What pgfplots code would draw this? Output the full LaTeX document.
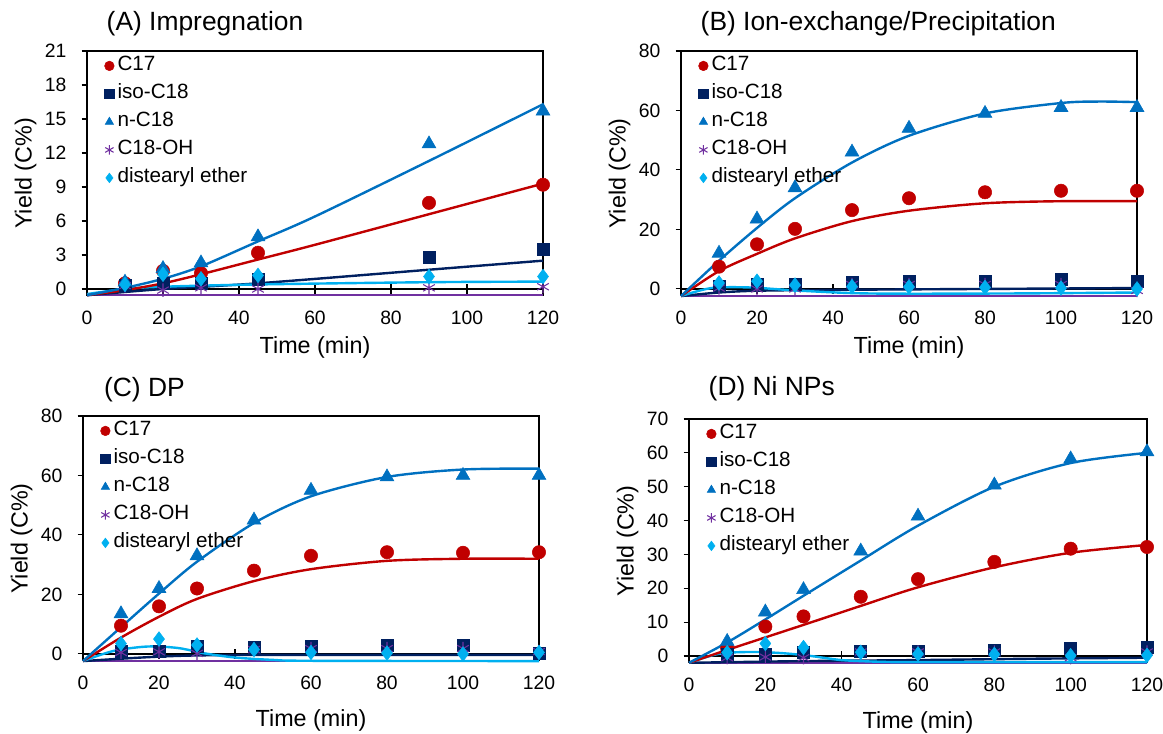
\documentclass[border=0pt]{standalone}
\usepackage{fontspec}
\setmainfont{Liberation Sans}
\usepackage{pgfplots}
\pgfplotsset{compat=1.18}
\definecolor{cRed}{HTML}{C00000}
\definecolor{cNavy}{HTML}{002060}
\definecolor{cBlue}{HTML}{0070C0}
\definecolor{cPurple}{HTML}{7030A0}
\definecolor{cCyan}{HTML}{00B0F0}
\newcommand{\tickfont}{\fontsize{14.5}{16}\selectfont}
\newcommand{\labfont}{\fontsize{17.5}{20}\selectfont}
\pgfplotsset{
  panel/.style={
    scale only axis, clip=false,
    xmin=0, xmax=120, xtick={0,20,...,120},
    axis line style={draw=none},
    xtick style={draw=none},
    ytick pos=left, tick align=outside, major tick length=4pt,
    ytick style={black, line width=0.8pt},
    xticklabel style={font=\tickfont, anchor=center, yshift=-12.5pt},
    yticklabel style={font=\tickfont, anchor=east, xshift=-8pt},
    xlabel={Time (min)}, ylabel={Yield (C\%)},
    every axis y label/.style={at={(rel axis cs:0,0.5)}, xshift=-46pt, rotate=90, anchor=center, font=\labfont},
    every axis x label/.style={at={(rel axis cs:0.5,0)}, anchor=center, yshift=-38.5pt, font=\labfont},
    legend style={at={(rel axis cs:0,1)}, anchor=north west, xshift=10pt, yshift=-2pt,
      draw=none, fill=none, font=\fontsize{15.5}{17}\selectfont,
      nodes={inner sep=0pt, text height=10.5pt, text depth=3.5pt},
      row sep=7pt, column sep=2.5pt},
    legend cell align=left,
    legend image code/.code={\draw[##1, mark size=3.6pt] plot coordinates {(0pt,0pt)};},
    /pgf/number format/assume math mode=true,
  },
  sC17/.style={only marks, mark=*, mark size=5pt, color=cRed},
  sIso/.style={only marks, mark=square*, mark size=4.5pt, color=cNavy},
  sN/.style={only marks, mark=triangle*, mark size=6pt, color=cBlue},
  sOH/.style={only marks, mark=asterisk, mark size=5pt, color=cPurple, mark options={line width=0.8pt}},
  sEth/.style={only marks, mark=diamond*, mark size=5.5pt, color=cCyan},
  fit/.style={smooth, no marks, line width=1.8pt, forget plot},
}
\newcommand{\frameaxis}{%
  \draw[line width=1.5pt] (axis cs:0,0) -- (axis cs:120,0);
  \pgfplotsinvokeforeach{20,40,60,80,100}{\draw[line width=0.8pt] (axis cs:##1,0) ++(0pt,-3.5pt) -- ++(0pt,7pt);}
  \draw[line width=1.1pt] (rel axis cs:0,0) -- (rel axis cs:0,1) -- (rel axis cs:1,1) -- (rel axis cs:1,0);
}
\begin{document}
\begin{tikzpicture}
\path[use as bounding box] (0,0) rectangle (872.25pt,550.5pt);
\node[anchor=west, font=\fontsize{19.8}{22}\selectfont] at (76.5pt,532.5pt) {(A) Impregnation};
\node[anchor=west, font=\fontsize{19.8}{22}\selectfont] at (522pt,532.5pt) {(B) Ion-exchange/Precipitation};
\node[anchor=west, font=\fontsize{19.8}{22}\selectfont] at (74.5pt,258pt) {(C) DP};
\node[anchor=west, font=\fontsize{19.8}{22}\selectfont] at (528pt,259pt) {(D) Ni NPs};

% ---------------- (A)
\begin{axis}[panel, at={(65.25pt,328.65pt)}, anchor=south west, width=342pt, height=183.6pt,
  ymin=-0.6, ymax=21, ytick={0,3,...,21}]
\frameaxis
\addplot[sC17] coordinates {(10,0.5) (20,1.6) (30,1.4) (45,3.2) (90,7.6) (120,9.2)};
\addlegendentry{C17}
\addplot[sIso] coordinates {(10,0.3) (20,0.5) (30,0.5) (45,0.9) (90,2.8) (120,3.5)};
\addlegendentry{iso-C18}
\addplot[sN] coordinates {(10,0.6) (20,1.8) (30,2.3) (45,4.6) (90,12.8) (120,15.7)};
\addlegendentry{n-C18}
\addplot[sOH] coordinates {(10,0.3) (20,-0.1) (30,0.1) (45,0.0) (90,0.1) (120,0.2)};
\addlegendentry{C18-OH}
\addplot[sEth] coordinates {(10,0.4) (20,1.3) (30,0.9) (45,1.2) (90,1.1) (120,1.1)};
\addlegendentry{distearyl ether}
\addplot[fit, cPurple] coordinates {(0,-0.55) (120,-0.55)};
\addplot[fit, cNavy] coordinates {(0,-0.55) (20,0.0) (45,0.5) (90,1.7) (120,2.5)};
\addplot[fit, cCyan] coordinates {(0,-0.45) (10,0.0) (20,0.2) (45,0.4) (90,0.6) (120,0.65)};
\addplot[fit, cRed] coordinates {(0,-0.55) (10,-0.1) (20,0.5) (30,1.3) (45,2.6) (60,3.9) (90,6.6) (120,9.3)};
\addplot[fit, cBlue] coordinates {(0,-0.55) (10,0.1) (20,0.9) (30,2.0) (45,4.2) (60,6.4) (90,11.3) (120,16.3)};
\end{axis}

% ---------------- (B)
\begin{axis}[panel, at={(510.75pt,328.43pt)}, anchor=south west, width=342pt, height=183.83pt,
  ymin=-2.4, ymax=80, ytick={0,20,...,80}]
\frameaxis
\addplot[sC17] coordinates {(10,7.5) (20,15) (30,20.2) (45,26.5) (60,30.5) (80,32.5) (100,33) (120,33)};
\addlegendentry{C17}
\addplot[sIso] coordinates {(10,1.0) (20,1.5) (30,1.5) (45,2.2) (60,2.5) (80,2.7) (100,3.2) (120,2.7)};
\addlegendentry{iso-C18}
\addplot[sN] coordinates {(10,12) (20,23.5) (30,34) (45,46) (60,54) (80,59) (100,61) (120,61)};
\addlegendentry{n-C18}
\addplot[sOH] coordinates {(10,0.3) (20,0) (30,0) (45,1.5) (60,1.5) (80,1.5) (100,1.5) (120,-0.5)};
\addlegendentry{C18-OH}
\addplot[sEth] coordinates {(10,2.0) (20,2.6) (30,1.3) (45,0.8) (60,0.7) (80,0.5) (100,0.3) (120,0.0)};
\addlegendentry{distearyl ether}
\addplot[fit, cPurple] coordinates {(0,-2.3) (120,-2.3)};
\addplot[fit, cNavy] coordinates {(0,-2.4) (10,-1.2) (20,-0.6) (40,-0.3) (80,0) (120,0.3)};
\addplot[fit, cCyan] coordinates {(0,-2.4) (8,0.3) (18,0.5) (30,-0.5) (45,-1.4) (60,-1.6) (90,-1.5) (120,-1.2)};
\addplot[fit, cRed] coordinates {(0,-2.4) (10,6) (20,11.8) (30,17) (45,22.8) (60,26.3) (80,28.8) (100,29.5) (120,29.5)};
\addplot[fit, cBlue] coordinates {(0,-2.4) (10,9.5) (20,20.5) (30,30.5) (45,42.5) (60,51.5) (80,59) (100,62.5) (110,63) (120,62.8)};
\end{axis}

% ---------------- (C)
\begin{axis}[panel, at={(62.25pt,54.68pt)}, anchor=south west, width=342pt, height=183.83pt,
  ymin=-2.4, ymax=80, ytick={0,20,...,80}, every axis x label/.append style={yshift=-6pt}]
\frameaxis
\addplot[sC17] coordinates {(10,9.5) (20,16) (30,22) (45,28) (60,33) (80,34.2) (100,34) (120,34.2)};
\addlegendentry{C17}
\addplot[sIso] coordinates {(10,1.0) (20,1.0) (30,2.5) (45,2.2) (60,2.5) (80,3.0) (100,3.0) (120,0.3)};
\addlegendentry{iso-C18}
\addplot[sN] coordinates {(10,13.5) (20,22) (30,33) (45,45) (60,55) (80,59.5) (100,60) (120,60)};
\addlegendentry{n-C18}
\addplot[sOH] coordinates {(10,0.5) (20,0.7) (30,0.2) (45,1.5) (60,1.8) (80,1.8) (100,1.8) (120,0.8)};
\addlegendentry{C18-OH}
\addplot[sEth] coordinates {(10,3.5) (20,5.0) (30,3.0) (45,1.5) (60,0.5) (80,0.3) (100,0.0) (120,0.5)};
\addlegendentry{distearyl ether}
\addplot[fit, cPurple] coordinates {(0,-2.4) (120,-2.4)};
\addplot[fit, cNavy] coordinates {(0,-2.4) (10,-1.6) (20,-0.9) (30,-0.5) (50,-0.3) (120,-0.3)};
\addplot[fit, cCyan] coordinates {(0,-2.4) (8,1.0) (17,2.5) (25,2.0) (32,0.2) (40,-1.2) (50,-2.0) (60,-2.3) (120,-2.4)};
\addplot[fit, cRed] coordinates {(0,-2.4) (10,5.5) (20,12.5) (30,18.5) (45,24.5) (60,28.5) (80,31.3) (100,32) (120,32)};
\addplot[fit, cBlue] coordinates {(0,-2.4) (10,9) (20,20.3) (30,31) (45,44) (60,53) (80,59.5) (100,62) (120,62.3)};
\end{axis}

% ---------------- (D)
\begin{axis}[panel, at={(516.75pt,53.4pt)}, anchor=south west, width=343.5pt, height=182.85pt,
  ymin=-2, ymax=70, ytick={0,10,...,70}, every axis x label/.append style={yshift=-6pt}]
\frameaxis
\addplot[sC17] coordinates {(10,2.3) (20,8.7) (30,11.7) (45,17.5) (60,22.7) (80,27.8) (100,31.7) (120,32.2)};
\addlegendentry{C17}
\addplot[sIso] coordinates {(10,0.5) (20,0.5) (30,1.0) (45,1.5) (60,1.5) (80,1.7) (100,2.2) (120,2.5)};
\addlegendentry{iso-C18}
\addplot[sN] coordinates {(10,4.3) (20,13) (30,19.6) (45,31) (60,41.3) (80,50.5) (100,58.2) (120,60.3)};
\addlegendentry{n-C18}
\addplot[sOH] coordinates {(10,-0.5) (20,-0.3) (30,-0.5) (45,1.2) (60,1.2) (80,1.2) (100,-0.5) (120,1.2)};
\addlegendentry{C18-OH}
\addplot[sEth] coordinates {(10,1.0) (20,3.7) (30,2.5) (45,1.1) (60,0.6) (80,0.5) (100,0.1) (120,0.2)};
\addlegendentry{distearyl ether}
\addplot[fit, cPurple] coordinates {(0,-2) (120,-2)};
\addplot[fit, cNavy] coordinates {(0,-2) (30,-1.5) (60,-1.2) (90,-0.8) (120,-0.5)};
\addplot[fit, cCyan] coordinates {(0,-2) (8,0.7) (17,1.2) (25,0.8) (32,0) (40,-1.2) (50,-1.7) (60,-1.8) (120,-1.8)};
\addplot[fit, cRed] coordinates {(0,-2) (10,1.8) (20,5.5) (30,9.2) (45,14.8) (60,20.3) (80,26.2) (100,30.5) (120,32.8)};
\addplot[fit, cBlue] coordinates {(0,-2) (10,4) (20,10.8) (30,17.8) (45,28.2) (60,38.5) (80,50) (100,57) (120,60)};
\end{axis}
\end{tikzpicture}
\end{document}
